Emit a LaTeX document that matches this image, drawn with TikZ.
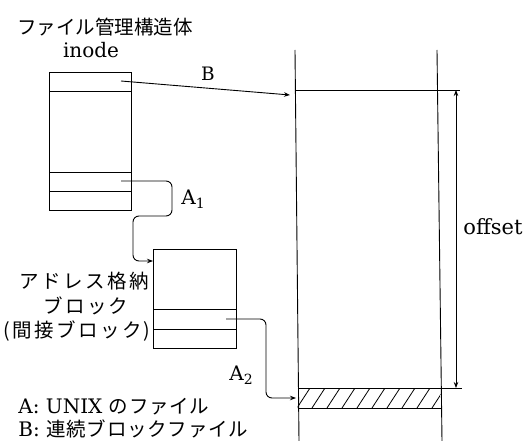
\documentclass[tikz,border=0pt]{standalone}
\usepackage{fontspec}
\setmainfont{DejaVu Serif}
\newfontfamily\jp{Noto Sans CJK JP}
\newfontfamily\jpsp[LetterSpace=12]{Noto Sans CJK JP}
\newfontfamily\jplg[LetterSpace=4]{Noto Sans CJK JP}
\newcommand\subidx[1]{\raisebox{-0.35ex}{\fontsize{14}{14}\selectfont #1}}
\usetikzlibrary{arrows.meta}
\begin{document}
\begin{tikzpicture}[x=1pt,y=-1pt,line width=0.9pt,
  box/.style={draw,rectangle,inner sep=0pt,anchor=north west},
  jt/.style={font=\jp\fontsize{19.5}{19.5}\selectfont,inner sep=0pt},
  js/.style={font=\jpsp\fontsize{19.5}{19.5}\selectfont,inner sep=0pt},
  lt/.style={font=\fontsize{20}{20}\selectfont,inner sep=0pt},
  legend/.style={anchor=west,inner sep=0pt,font=\fontsize{20}{20}\selectfont},
  tip/.style={-{Stealth[length=6pt,width=4.5pt]}},
  dimarrow/.style={{Stealth[length=6pt,width=4.5pt]}-{Stealth[length=6pt,width=4.5pt]}}]
\useasboundingbox (0,0) rectangle (531,441);

% title and labels
\node[jt] (title) at (105,27) {ファイル管理構造体};
\node[lt,anchor=base] (inodelbl) at (91,58) {inode};
\node[lt,font=\fontsize{18.5}{18.5}\selectfont] (blbl) at (208,74) {B};
\node[lt] (a1lbl) at (193,199) {A\subidx{1}};
\node[lt] (a2lbl) at (241,375) {A\subidx{2}};
\node[lt,font=\fontsize{21}{21}\selectfont] (offlbl) at (493,227) {offset};

% inode block
\node[box,minimum width=82pt,minimum height=138pt] (ino) at (49,72) {};
\draw (49,91) -- (131,91);
\draw (49,172) -- (131,172);
\draw (49,191) -- (131,191);

% address block
\node[box,minimum width=83pt,minimum height=99pt] (adr) at (153,249) {};
\draw (153,309) -- (236,309);
\draw (153,329) -- (236,329);

\node[js,anchor=east] (l1) at (149,281) {アドレス格納};
\node[js] (l2) at (86,306) {ブロック};
\node[js,anchor=east] (l3) at (151,331) {(間接ブロック)};

% legend
\node[legend] (lega) at (18,407) {A: UNIX {\jplg\fontsize{19.5}{19.5}\selectfont のファイル}};
\node[legend] (legb) at (18,429) {B: {\jplg\fontsize{19.5}{19.5}\selectfont 連続ブロックファイル}};

% file column
\draw (295,50) -- (299,441);
\draw (437,50) -- (442,441);
\draw (295.4,90) -- (460,90);
\draw (297.5,388) -- (462,388);
\draw (297.7,408) -- (441,408);
\begin{scope}
  \clip (297.5,388) -- (440.5,388) -- (441,408) -- (297.7,408) -- cycle;
  \foreach \x in {282,297,...,447} \draw[line width=0.8pt] (\x,408) -- (\x+13,388);
\end{scope}
\coordinate (offtop) at (456,90);
\coordinate (offbot) at (456,388);
\draw[dimarrow,line width=0.8pt] (offtop) -- (offbot);

% connectors
\coordinate (bs) at (121,81);
\coordinate (be) at (290,95);
\draw[tip] (bs) -- (be);

\coordinate (a1s) at (121,181);
\coordinate (a1e) at ([yshift=-12pt]adr.north west);
\draw[tip,rounded corners=6pt] (a1s) -| (172,216) -| (133,261) -- (a1e);

\coordinate (a2s) at (226,319);
\coordinate (a2e) at (296,398);
\draw[tip,rounded corners=6pt] (a2s) -| (266,398) -- (a2e);
\end{tikzpicture}
\end{document}
